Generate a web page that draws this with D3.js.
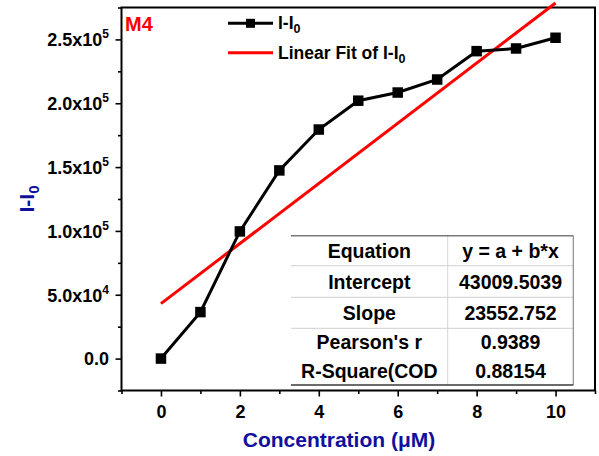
<!DOCTYPE html>
<html>
<head>
<meta charset="utf-8">
<script src="https://cdn.jsdelivr.net/npm/d3@7"></script>
<style>
  html, body { margin: 0; padding: 0; background: #fff; }
  svg { display: block; font-family: "Liberation Sans", Arial, sans-serif; font-weight: bold; }
</style>
</head>
<body>
<svg id="chart" width="599" height="456"></svg>
<script>
// Concentration (µM) and measured intensity difference I-I0
const concentration = [0, 1, 2, 3, 4, 5, 6, 7, 8, 9, 10];
const intensity = [0, 36400, 99600, 147400, 179400, 202000, 208400, 218600, 240800, 242900, 251300];

// Linear fit parameters as reported in the fit table
const fitIntercept = 43009.5039;
const fitSlope = 23552.752;
const fitRange = [0, 10];

// Fit table contents
const tableLabels = ["Equation", "Intercept", "Slope", "Pearson's r", "R-Square(COD"];
const tableValues = ["y = a + b*x", "43009.5039", "23552.752", "0.9389", "0.88154"];

// Axis ticks
const xTicks = [0, 2, 4, 6, 8, 10];
const xMinorTicks = [-1, 1, 3, 5, 7, 9, 11];
const yTicks = [0, 50000, 100000, 150000, 200000, 250000];
const yTickMantissa = ["0.0", "5.0x10", "1.0x10", "1.5x10", "2.0x10", "2.5x10"];
const yTickExponent = ["", "4", "5", "5", "5", "5"];
const yMinorTicks = [-25000, 25000, 75000, 125000, 175000, 225000, 275000];

const svg = d3.select("#chart");
const plot = { left: 121.5, right: 595, top: 7.5, bottom: 390.5 };

const x = d3.scaleLinear().domain([-1, 11]).range([plot.left, plot.right]);
const y = d3.scaleLinear().domain([-25000, 275000]).range([plot.bottom, plot.top]);

const axisTitleColor = "#10109c";

// Bottom axis
const xAxis = svg.append("g")
  .attr("transform", `translate(0,${plot.bottom})`)
  .call(d3.axisBottom(x).tickValues(xTicks).tickSize(6).tickPadding(9).tickFormat(d3.format("d")));
svg.append("g")
  .attr("transform", `translate(0,${plot.bottom})`)
  .call(d3.axisBottom(x).tickValues(xMinorTicks).tickSize(3.5).tickFormat(""))
  .call(g => g.select(".domain").remove());

// Left axis
const yAxis = svg.append("g")
  .attr("transform", `translate(${plot.left},0)`)
  .call(d3.axisLeft(y).tickValues(yTicks).tickSize(6).tickPadding(7).tickFormat(""));
svg.append("g")
  .attr("transform", `translate(${plot.left},0)`)
  .call(d3.axisLeft(y).tickValues(yMinorTicks).tickSize(3.5).tickFormat(""))
  .call(g => g.select(".domain").remove());

[xAxis, yAxis].forEach(g => g.selectAll("path.domain").remove());
svg.selectAll("g.tick line").attr("stroke", "#000").attr("stroke-width", 1.6);

xAxis.selectAll("text")
  .attr("font-size", 18).attr("font-weight", "bold").attr("fill", "#000")
  .attr("font-family", "Liberation Sans, Arial, sans-serif");

// y tick labels with superscript exponent
yAxis.selectAll("g.tick").each(function(d, i) {
  const t = d3.select(this).select("text")
    .attr("font-size", 18).attr("font-weight", "bold").attr("fill", "#000")
    .attr("font-family", "Liberation Sans, Arial, sans-serif")
    .attr("x", -12.5).attr("dy", "0.35em").attr("text-anchor", "end");
  t.text(null);
  t.append("tspan").text(yTickMantissa[i]);
  if (yTickExponent[i]) {
    t.append("tspan").attr("font-size", 12).attr("dy", "-0.65em").text(yTickExponent[i]);
  }
});

// Frame
svg.append("rect")
  .attr("x", plot.left).attr("y", plot.top)
  .attr("width", plot.right - plot.left).attr("height", plot.bottom - plot.top)
  .attr("fill", "none").attr("stroke", "#000").attr("stroke-width", 2);

// Fit table
const table = { left: 291, mid: 447.7, right: 573.3, top: 235.7, bottom: 385 };
const rowTops = [235.7, 265.7, 297.3, 328.3, 356.5];
const rowBottoms = [265.7, 297.3, 328.3, 356.5, 385];
const tg = svg.append("g");
rowTops.slice(1, 4).forEach(ty => {
  tg.append("line").attr("x1", table.left).attr("x2", table.right)
    .attr("y1", ty).attr("y2", ty).attr("stroke", "#cfcfcf").attr("stroke-width", 1);
});
tg.append("line").attr("x1", table.mid).attr("x2", table.mid)
  .attr("y1", table.top).attr("y2", table.bottom).attr("stroke", "#d4d4d4").attr("stroke-width", 1);
tg.append("line").attr("x1", table.right).attr("x2", table.right)
  .attr("y1", table.top).attr("y2", table.bottom).attr("stroke", "#8a8a8a").attr("stroke-width", 1.2);
tg.append("line").attr("x1", table.left).attr("x2", table.right)
  .attr("y1", table.top).attr("y2", table.top).attr("stroke", "#7a7a7a").attr("stroke-width", 1.6);
tg.append("line").attr("x1", table.left).attr("x2", table.right)
  .attr("y1", table.bottom).attr("y2", table.bottom).attr("stroke", "#3a3a3a").attr("stroke-width", 1.6);

tableLabels.forEach((lab, i) => {
  const cy = (rowTops[i] + rowBottoms[i]) / 2 + 7;
  tg.append("text").attr("x", (table.left + table.mid) / 2).attr("y", cy)
    .attr("text-anchor", "middle").attr("font-size", 19.5).attr("fill", "#000").text(lab);
  tg.append("text").attr("x", (table.mid + table.right) / 2).attr("y", cy)
    .attr("text-anchor", "middle").attr("font-size", 19.5).attr("fill", "#000").text(tableValues[i]);
});

// Linear fit line
const fitLine = d3.line().x(d => x(d)).y(d => y(fitIntercept + fitSlope * d));
svg.append("path").datum(fitRange)
  .attr("d", fitLine).attr("fill", "none").attr("stroke", "#f00").attr("stroke-width", 3);

// Data series
const pts = concentration.map((c, i) => [c, intensity[i]]);
svg.append("path").datum(pts)
  .attr("d", d3.line().x(d => x(d[0])).y(d => y(d[1])))
  .attr("fill", "none").attr("stroke", "#000").attr("stroke-width", 3);
const ms = 10.5;
svg.append("g").selectAll("rect").data(pts).join("rect")
  .attr("x", d => x(d[0]) - ms / 2).attr("y", d => y(d[1]) - ms / 2)
  .attr("width", ms).attr("height", ms).attr("fill", "#000");

// Legend
const lg = svg.append("g");
lg.append("line").attr("x1", 228).attr("x2", 273).attr("y1", 23.3).attr("y2", 23.3)
  .attr("stroke", "#000").attr("stroke-width", 3);
lg.append("rect").attr("x", 250.5 - 4.5).attr("y", 23.3 - 4.5).attr("width", 9).attr("height", 9).attr("fill", "#000");
const l1 = lg.append("text").attr("x", 278).attr("y", 29).attr("font-size", 17.5).attr("fill", "#000");
l1.append("tspan").text("I-I");
l1.append("tspan").attr("font-size", 12.5).attr("dy", 4).text("0");
lg.append("line").attr("x1", 228).attr("x2", 273).attr("y1", 52.7).attr("y2", 52.7)
  .attr("stroke", "#f00").attr("stroke-width", 3);
const l2 = lg.append("text").attr("x", 278).attr("y", 59).attr("font-size", 17.5).attr("fill", "#000");
l2.append("tspan").text("Linear Fit of I-I");
l2.append("tspan").attr("font-size", 12.5).attr("dy", 4).text("0");

// Panel tag
svg.append("text").attr("x", 125).attr("y", 30.5).attr("font-size", 20)
  .attr("fill", "#f00").text("M4");

// Axis titles
svg.append("text").attr("x", 339).attr("y", 446.5)
  .attr("text-anchor", "middle").attr("font-size", 21).attr("fill", axisTitleColor)
  .text("Concentration (μM)");
const yt = svg.append("text")
  .attr("transform", `translate(34,199) rotate(-90)`)
  .attr("text-anchor", "middle").attr("font-size", 21).attr("fill", axisTitleColor);
yt.append("tspan").text("I-I");
yt.append("tspan").attr("font-size", 15).attr("dy", 5).text("0");
</script>
</body>
</html>
